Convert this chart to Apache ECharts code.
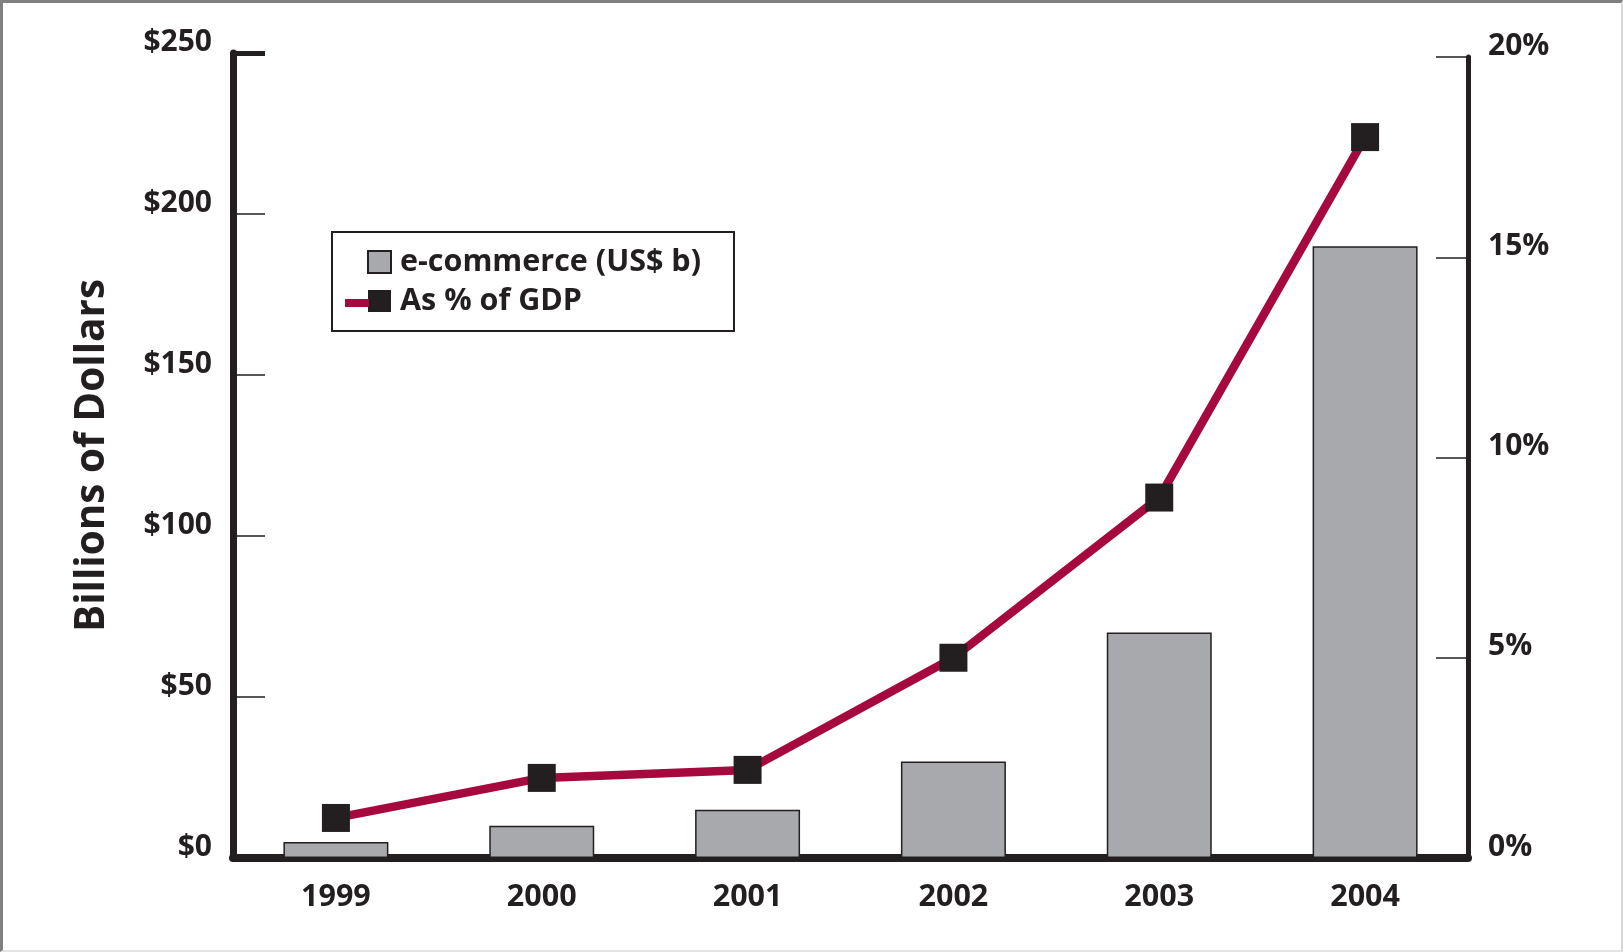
<!DOCTYPE html>
<html>
<head>
<meta charset="utf-8">
<script src="https://cdn.jsdelivr.net/npm/echarts@6/dist/echarts.min.js"></script>
<style>
  html, body { margin: 0; padding: 0; background: #fff; }
  #chart {
    width: 1623px; height: 952px; box-sizing: border-box;
    border-top: 3px solid #808080; border-left: 3px solid #808080;
    border-right: 2px solid #d8d8d8; border-bottom: 2px solid #e4e4e4;
  }
</style>
</head>
<body>
<div id="chart"></div>
<script>
// Years on the category axis
const years = ['1999', '2000', '2001', '2002', '2003', '2004'];
// e-commerce volume, billions of US dollars
const ecommerce = [5, 10, 15, 30, 70, 190];
// e-commerce as a share of GDP, percent
const shareOfGdp = [1.0, 2.0, 2.2, 5.0, 9.0, 18.0];
// Axis tick labels
const dollarTicks = ['$0', '$50', '$100', '$150', '$200', '$250'];
const percentTicks = ['0%', '5%', '10%', '15%', '20%'];

const INK = '#231f20';
const FONT = '"Open Sans", "Noto Sans", sans-serif';

const chart = echarts.init(document.getElementById('chart'));

chart.setOption({
  animation: false,
  backgroundColor: '#fff',
  textStyle: { fontFamily: FONT, color: INK },
  grid: [
    { left: 230, right: 153, top: 50, bottom: 92 },
    { left: 230, right: 153, top: 54, bottom: 92 }
  ],
  legend: [
    {
      left: 329, top: 229,
      orient: 'vertical',
      padding: [14, 33, 14, 35],
      itemWidth: 23, itemHeight: 22, itemGap: 7,
      backgroundColor: '#fff',
      borderColor: INK, borderWidth: 2,
      selectedMode: false,
      textStyle: { fontFamily: FONT, fontSize: 30.5, fontWeight: 'bold', color: INK, lineHeight: 32, padding: [0, 0, 0, 4] },
      data: [
        { name: 'e-commerce (US$ b)', icon: 'rect', itemStyle: { color: '#a7a9ac', borderColor: INK, borderWidth: 2 } },
        { name: 'As % of GDP', icon: 'rect', itemStyle: { color: INK, borderWidth: 0 } }
      ]
    },
    {
      // red stub of the line key, sitting just left of its square
      left: 342, top: 296,
      padding: 0,
      itemWidth: 24, itemHeight: 8,
      selectedMode: false,
      formatter: () => '',
      textStyle: { fontSize: 1 },
      data: [{ name: 'As % of GDP', icon: 'rect', itemStyle: { color: '#a6093d', borderWidth: 0 } }]
    }
  ],
  xAxis: [
    {
      type: 'category', gridIndex: 0, data: years,
      axisLine: { lineStyle: { color: INK, width: 8 } },
      axisTick: { show: false },
      axisLabel: { fontFamily: FONT, fontSize: 30.5, fontWeight: 'bold', color: INK, margin: 24 }
    },
    {
      type: 'category', gridIndex: 1, data: years, show: false
    }
  ],
  yAxis: [
    {
      type: 'value', gridIndex: 0, position: 'left', min: 0, max: 250, interval: 50,
      name: 'Billions of Dollars', nameLocation: 'middle', nameRotate: 90, nameGap: 120,
      nameTextStyle: { fontFamily: FONT, fontSize: 40.5, fontWeight: 'bold', color: INK },
      axisLine: { show: true, lineStyle: { color: INK, width: 7 } },
      axisTick: { show: true, inside: true, length: 32, lineStyle: { color: INK, width: 1.5 } },
      splitLine: { show: false },
      axisLabel: {
        fontFamily: FONT, fontSize: 30, fontWeight: 'bold', color: INK, margin: 21,
        verticalAlign: 'bottom', lineHeight: 22,
        formatter: (v) => dollarTicks[v / 50]
      }
    },
    {
      type: 'value', gridIndex: 1, position: 'right', min: 0, max: 20, interval: 5,
      axisLine: { show: true, lineStyle: { color: INK, width: 5 } },
      axisTick: { show: true, inside: true, length: 32, lineStyle: { color: INK, width: 1.5 } },
      splitLine: { show: false },
      axisLabel: {
        fontFamily: FONT, fontSize: 30, fontWeight: 'bold', color: INK, margin: 20,
        verticalAlign: 'bottom', lineHeight: 22,
        formatter: (v) => percentTicks[v / 5]
      }
    },
    {
      // heavy cap tick at the top of the dollar scale
      type: 'value', gridIndex: 0, position: 'left', min: 0, max: 250, interval: 250,
      axisLine: { show: false },
      axisTick: { show: true, inside: true, length: 32, lineStyle: { color: INK, width: 5 } },
      axisLabel: { show: false },
      splitLine: { show: false }
    }
  ],
  series: [
    {
      name: 'e-commerce (US$ b)',
      type: 'bar', xAxisIndex: 0, yAxisIndex: 0,
      data: ecommerce,
      barWidth: '51%',
      itemStyle: { color: '#a7a9ac', borderColor: INK, borderWidth: 1.5 }
    },
    {
      name: 'As % of GDP',
      type: 'line', xAxisIndex: 1, yAxisIndex: 1,
      data: shareOfGdp,
      symbol: 'rect', symbolSize: 28,
      lineStyle: { color: '#a6093d', width: 8.5 },
      itemStyle: { color: INK, borderWidth: 0 },
      z: 5
    }
  ]
});
</script>
</body>
</html>
